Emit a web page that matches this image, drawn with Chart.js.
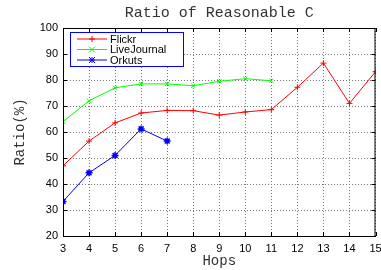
<!DOCTYPE html>
<html>
<head>
<meta charset="utf-8">
<script src="https://cdn.jsdelivr.net/npm/chart.js@4"></script>
<style>
  html, body { margin: 0; padding: 0; background: #fff; }
  #wrap { width: 381px; height: 270px; }
</style>
</head>
<body>
<div id="wrap"><canvas id="chart" width="381" height="270"></canvas></div>
<script>
// --- Data ---
const hops = [3, 4, 5, 6, 7, 8, 9, 10, 11, 12, 13, 14, 15];
const flickr = [47, 56.5, 63.5, 67.3, 68.3, 68.2, 66.5, 67.7, 68.6, 77.2, 86.5, 71, 83.2];
const liveJournal = [64, 72, 77, 78.5, 78.5, 77.8, 79.5, 80.5, 79.7];
const orkuts = [33.3, 44.3, 51, 61.2, 56.5];
const seriesNames = ["Flickr", "LiveJournal", "Orkuts"];
const chartTitle = "Ratio of Reasonable C";

const monoFont = "'Liberation Mono', 'DejaVu Sans Mono', monospace";
const sansFont = "'Liberation Sans', Arial, sans-serif";

const toPoints = vals => vals.map((v, i) => ({ x: hops[i], y: v }));

// frame + small inward ticks around the plot area, title over the plot
const framePlugin = {
    id: "frame",
    afterDraw(chart) {
        const { ctx, chartArea: a, scales } = chart;
        ctx.save();
        ctx.strokeStyle = "#000";
        ctx.lineWidth = 1;
        ctx.strokeRect(a.left + 0.5, a.top + 0.5, a.right - a.left - 1, a.bottom - a.top);
        ctx.beginPath();
        scales.x.ticks.forEach(t => {
            const x = Math.round(scales.x.getPixelForValue(t.value)) + 0.5;
            ctx.moveTo(x, a.bottom); ctx.lineTo(x, a.bottom - 4);
            ctx.moveTo(x, a.top); ctx.lineTo(x, a.top + 4);
        });
        scales.y.ticks.forEach(t => {
            const y = Math.round(scales.y.getPixelForValue(t.value)) + 0.5;
            ctx.moveTo(a.left, y); ctx.lineTo(a.left + 4, y);
            ctx.moveTo(a.right, y); ctx.lineTo(a.right - 4, y);
        });
        ctx.stroke();

        ctx.fillStyle = "#333";
        ctx.font = "15px " + monoFont;
        ctx.textAlign = "center";
        ctx.textBaseline = "middle";
        ctx.fillText(chartTitle, (a.left + a.right) / 2, 13);
        ctx.restore();
    }
};

// gnuplot style legend box in the top left corner
const legendPlugin = {
    id: "boxLegend",
    afterDraw(chart) {
        const { ctx, chartArea: a } = chart;
        const x0 = a.left + 7, y0 = a.top + 4;
        ctx.save();
        ctx.fillStyle = "#fff";
        ctx.fillRect(x0, y0, 113, 34);
        ctx.strokeStyle = "#0000ff";
        ctx.lineWidth = 1;
        ctx.strokeRect(x0 + 0.5, y0 + 0.5, 113, 34);
        chart.data.datasets.forEach((ds, i) => {
            const y = y0 + 7 + i * 10.5;
            ctx.strokeStyle = ds.borderColor;
            ctx.beginPath();
            ctx.moveTo(x0 + 7, y);
            ctx.lineTo(x0 + 37, y);
            ctx.stroke();
            const mx = x0 + 22;
            ctx.beginPath();
            if (i === 0) {
                ctx.moveTo(mx - 3, y); ctx.lineTo(mx + 3, y);
                ctx.moveTo(mx, y - 3); ctx.lineTo(mx, y + 3);
            } else {
                ctx.moveTo(mx - 3, y - 3); ctx.lineTo(mx + 3, y + 3);
                ctx.moveTo(mx - 3, y + 3); ctx.lineTo(mx + 3, y - 3);
                if (i === 2) {
                    ctx.moveTo(mx - 3, y); ctx.lineTo(mx + 3, y);
                    ctx.moveTo(mx, y - 3); ctx.lineTo(mx, y + 3);
                }
            }
            ctx.stroke();
            ctx.fillStyle = "#000";
            ctx.font = "11px " + sansFont;
            ctx.textBaseline = "middle";
            ctx.fillText(ds.label, x0 + 43 - 3, y + 0.5);
        });
        ctx.restore();
    }
};

const gridStyle = {
    color: "#777",
    lineWidth: 1,
    drawTicks: false
};

new Chart(document.getElementById("chart"), {
    type: "line",
    data: {
        datasets: [
            {
                label: seriesNames[0],
                data: toPoints(flickr),
                borderColor: "#ff0000",
                backgroundColor: "#ff0000",
                pointStyle: "cross",
                pointRadius: 3,
                borderWidth: 1,
                pointBorderWidth: 1
            },
            {
                label: seriesNames[1],
                data: toPoints(liveJournal),
                borderColor: "#00ff00",
                backgroundColor: "#00ff00",
                pointStyle: "crossRot",
                pointRadius: 3,
                borderWidth: 1,
                pointBorderWidth: 1
            },
            {
                label: seriesNames[2],
                data: toPoints(orkuts),
                borderColor: "#0000ff",
                backgroundColor: "#0000ff",
                pointStyle: "star",
                pointRadius: 3.5,
                borderWidth: 1,
                pointBorderWidth: 1.5
            }
        ]
    },
    options: {
        responsive: false,
        animation: false,
        layout: { padding: { left: 0, right: 0, top: 28, bottom: 0 } },
        plugins: {
            legend: { display: false },
            tooltip: { enabled: false },
            title: { display: false }
        },
        scales: {
            x: {
                type: "linear",
                min: 3,
                max: 15,
                grid: gridStyle,
                border: { display: true, color: "#000", dash: [1, 2] },
                ticks: {
                    stepSize: 1,
                    color: "#000",
                    padding: 6,
                    maxRotation: 0,
                    font: { family: sansFont, size: 11 }
                },
                title: {
                    display: true,
                    text: "Hops",
                    color: "#333",
                    font: { family: monoFont, size: 14 },
                    padding: { top: 0, bottom: 0 }
                },
                afterFit(s) { s.height = 34; s.paddingLeft = 0; s.paddingRight = 0; }
            },
            y: {
                min: 20,
                max: 100,
                grid: gridStyle,
                border: { display: true, color: "#000", dash: [1, 2] },
                ticks: {
                    stepSize: 10,
                    color: "#000",
                    padding: 5,
                    font: { family: sansFont, size: 11 }
                },
                title: {
                    display: true,
                    text: "Ratio(%)",
                    color: "#333",
                    font: { family: monoFont, size: 14 },
                    padding: { top: 12, bottom: 0 }
                },
                afterFit(s) { s.width = 63; s.paddingTop = 0; s.paddingBottom = 0; }
            }
        }
    },
    plugins: [framePlugin, legendPlugin]
});
</script>
</body>
</html>
